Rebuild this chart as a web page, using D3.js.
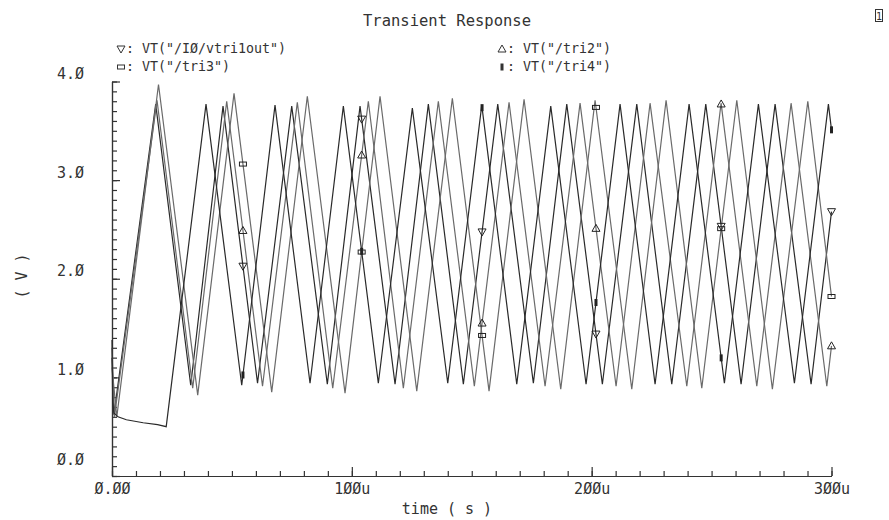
<!DOCTYPE html>
<html>
<head>
<meta charset="utf-8">
<script src="https://cdn.jsdelivr.net/npm/d3@7"></script>
<style>
  body { margin: 0; background: #fff; }
  svg text { font-family: "DejaVu Sans Mono", monospace; fill: #333; }
</style>
</head>
<body>
<svg></svg>
<script>
const width = 889;
const height = 520;

// axis ticks and labels (Cadence draws zero as a slashed zero)
const xTicksMajor = [0, 100, 200, 300];
const xTickLabels = ["Ø.ØØ", "1ØØu", "2ØØu", "3ØØu"];
const xTicksMinor = d3.range(0, 301, 10);
const yTicksMajor = [0, 1, 2, 3, 4];
const yTickLabels = ["Ø.Ø", "1.Ø", "2.Ø", "3.Ø", "4.Ø"];
const yTicksMinor = d3.range(0, 40.5, 1).map(d => d / 10);

// times (us) where the waveform markers sit
const markerTimes = [54.6, 104.1, 154.3, 201.8, 254.0, 300];

// [time in us, volts] corners of each waveform
const vtri1out = [[0,1.2],[0.8,0.62],[18.22,3.77],[32.82,0.92],[46.29,3.75],[60.68,0.94],[74.94,3.75],
  [89.78,0.93],[103.42,3.75],[118.02,0.93],[131.9,3.77],[146.5,0.93],[160.84,3.77],[175.69,0.94],
  [189.62,3.77],[204.46,0.93],[218.81,3.77],[233.4,0.93],[247.58,3.77],[262.3,0.93],[276.48,3.77],
  [291.49,0.93],[300,2.68]];
const tri2 = [[0,1.3],[1.0,0.6],[18.77,3.81],[33.65,0.89],[47.83,3.8],[62.76,0.91],[77.27,3.79],
  [92.04,0.89],[106.88,3.8],[121.48,0.89],[136.07,3.8],[151.08,0.91],[165.55,3.79],[180.57,0.91],
  [195.16,3.78],[210.18,0.91],[224.35,3.78],[239.66,0.91],[253.96,3.78],[268.85,0.91],[283.15,3.78],
  [298.04,0.91],[300,1.32]];
const tri3 = [[0,1.1],[2.0,0.6],[19.39,3.97],[35.74,0.82],[50.88,3.88],[66.6,0.85],[81.44,3.85],
  [97.16,0.84],[111.76,3.85],[127.07,0.86],[141.91,3.83],[157.21,0.86],[171.81,3.82],[187.11,0.88],
  [201.42,3.81],[216.72,0.88],[231.03,3.81],[245.91,0.89],[260.51,3.81],[275.35,0.88],[290.12,3.8],
  [300,1.82]];
const tri4 = [[0,1.38],[0.3,0.75],[0.8,0.64],[2.5,0.6],[6,0.57],[13,0.54],[19,0.52],[22.6,0.5],
  [39.2,3.77],[54.09,0.92],[67.97,3.76],[82.57,0.94],[96.46,3.75],[111.05,0.94],[125.23,3.73],
  [139.99,0.94],[154.17,3.76],[168.77,0.93],[182.94,3.75],[197.66,0.93],[211.84,3.77],[226.44,0.93],
  [240.62,3.77],[255.34,0.94],[269.52,3.77],[284.53,0.94],[298.71,3.77],[300,3.51]];

const seriesNames = ['VT("/IØ/vtri1out")', 'VT("/tri2")', 'VT("/tri3")', 'VT("/tri4")'];
const seriesData = [vtri1out, tri2, tri3, tri4];
const seriesMarkers = ["down", "up", "hrect", "vrect"];
const seriesColors = ["#2a2a2a", "#6a6a6a", "#6a6a6a", "#2a2a2a"];

const svg = d3.select("svg").attr("width", width).attr("height", height);

const x = d3.scaleLinear().domain([0, 300]).range([112, 831.5]);
const y = d3.scaleLinear().domain([0, 4]).range([476, 81.5]);

// title and little window-number box
svg.append("text")
  .attr("x", 447).attr("y", 26)
  .attr("text-anchor", "middle")
  .style("font-size", "15.5px")
  .text("Transient Response");

svg.append("rect")
  .attr("x", 875.5).attr("y", 9.5).attr("width", 7).attr("height", 12)
  .attr("fill", "none").attr("stroke", "#333");
svg.append("text")
  .attr("x", 879).attr("y", 20).attr("text-anchor", "middle")
  .style("font-size", "10px").text("1");

function drawMarker(g, type, cx, cy, color) {
  if (type === "down") {
    g.append("path")
      .attr("d", `M${cx - 4},${cy - 3}L${cx + 4},${cy - 3}L${cx},${cy + 4}Z`)
      .attr("fill", "none").attr("stroke", color).attr("stroke-width", 1);
  } else if (type === "up") {
    g.append("path")
      .attr("d", `M${cx - 4},${cy + 3}L${cx + 4},${cy + 3}L${cx},${cy - 4}Z`)
      .attr("fill", "none").attr("stroke", color).attr("stroke-width", 1);
  } else if (type === "hrect") {
    g.append("rect")
      .attr("x", cx - 3.5).attr("y", cy - 2).attr("width", 7).attr("height", 4)
      .attr("fill", "none").attr("stroke", color).attr("stroke-width", 1);
  } else {
    g.append("rect")
      .attr("x", cx - 1.5).attr("y", cy - 3.5).attr("width", 3).attr("height", 7)
      .attr("fill", color);
  }
}

// legend, two columns
const legendPos = [[121, 53], [502, 53], [121, 71], [502, 71]];
const legend = svg.append("g");
seriesNames.forEach((name, i) => {
  const [lx, ly] = legendPos[i];
  drawMarker(legend, seriesMarkers[i], lx, ly - 4, "#333");
  legend.append("text")
    .attr("x", lx + 5).attr("y", ly)
    .style("font-size", "13.3px")
    .text(": " + name);
});

// axes: ticks point into the plot
const xMinor = svg.append("g")
  .attr("transform", `translate(0,${y(0)})`)
  .call(d3.axisBottom(x).tickValues(xTicksMinor).tickSize(-5).tickSizeOuter(0).tickFormat(""));
const xMajor = svg.append("g")
  .attr("transform", `translate(0,${y(0)})`)
  .call(d3.axisBottom(x).tickValues(xTicksMajor).tickSize(-9).tickSizeOuter(0).tickPadding(7)
    .tickFormat((d, i) => xTickLabels[i]));

const yMinor = svg.append("g")
  .attr("transform", `translate(${x(0)},0)`)
  .call(d3.axisLeft(y).tickValues(yTicksMinor).tickSize(-5).tickSizeOuter(0).tickFormat(""));
const yMajor = svg.append("g")
  .attr("transform", `translate(${x(0)},0)`)
  .call(d3.axisLeft(y).tickValues(yTicksMajor).tickSize(-8).tickSizeOuter(0).tickPadding(28)
    .tickFormat((d, i) => yTickLabels[i]));

[xMinor, xMajor, yMinor, yMajor].forEach(g => {
  g.selectAll("path, line").attr("stroke", "#333").attr("stroke-width", 1.2);
  g.selectAll("text").style("font-size", "15px").attr("fill", "#333")
    .style("font-family", '"DejaVu Sans Mono", monospace');
});
yMajor.selectAll("text").attr("dy", d => d === 0 ? -12 : -3);

svg.append("text")
  .attr("x", 447).attr("y", 514)
  .attr("text-anchor", "middle")
  .style("font-size", "15px")
  .text("time ( s )");

svg.append("text")
  .attr("transform", "translate(22,276) rotate(-90)")
  .attr("text-anchor", "middle")
  .attr("dominant-baseline", "central")
  .style("font-size", "15px")
  .text("( V )");

// waveforms
const line = d3.line().x(d => x(d[0])).y(d => y(d[1]));
const plot = svg.append("g");
seriesData.forEach((data, i) => {
  plot.append("path")
    .datum(data)
    .attr("d", line)
    .attr("fill", "none")
    .attr("stroke", seriesColors[i])
    .attr("stroke-width", 1.2);
});

// markers placed on each waveform by interpolating its corners
const bisect = d3.bisector(d => d[0]).left;
function valueAt(data, t) {
  const j = Math.max(1, Math.min(data.length - 1, bisect(data, t)));
  const a = data[j - 1], b = data[j];
  return a[1] + (b[1] - a[1]) * (t - a[0]) / (b[0] - a[0]);
}
const markerLayer = svg.append("g");
seriesData.forEach((data, i) => {
  markerTimes.forEach(t => {
    drawMarker(markerLayer, seriesMarkers[i], x(t), y(valueAt(data, t)), "#222");
  });
});
</script>
</body>
</html>
